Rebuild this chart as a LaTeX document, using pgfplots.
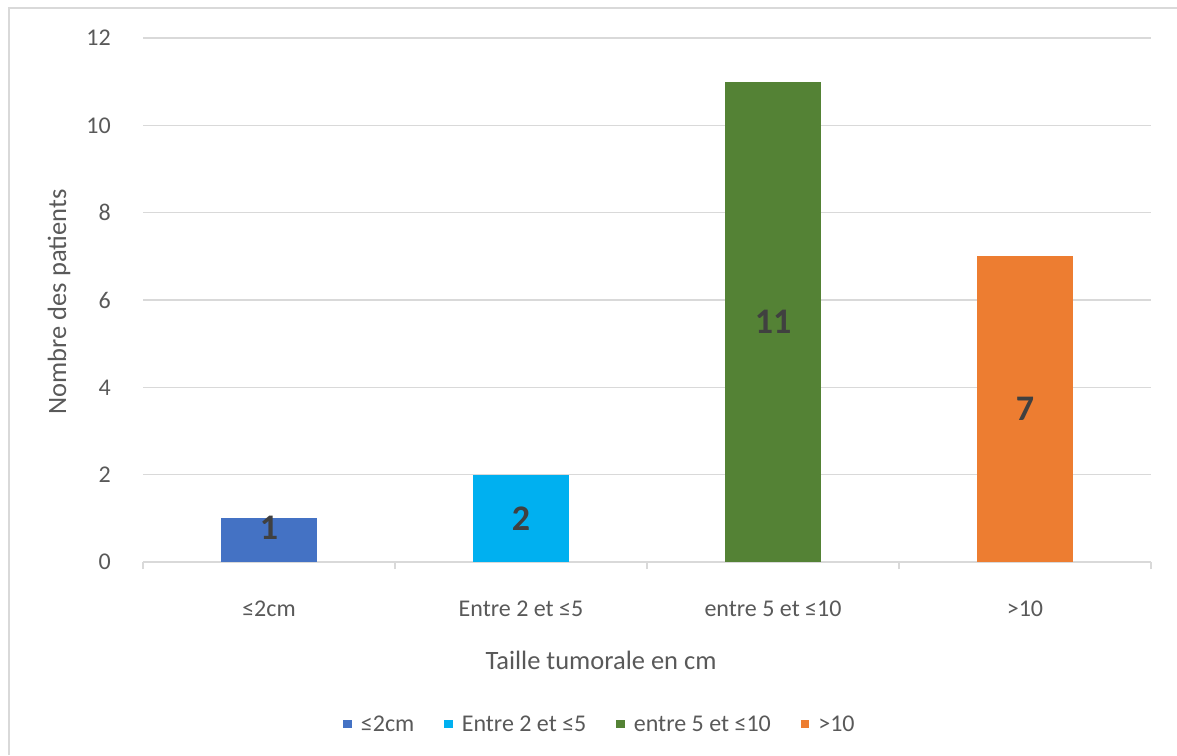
\documentclass[border=0pt]{standalone}
\usepackage{pgfplots}
\pgfplotsset{compat=1.18}
\usepackage{fontspec}
\setmainfont{Carlito}
\definecolor{gridgray}{HTML}{D9D9D9}
\definecolor{txtgray}{HTML}{595959}
\definecolor{lblgray}{HTML}{404040}
\definecolor{cblue}{HTML}{4472C4}
\definecolor{ccyan}{HTML}{00B0F0}
\definecolor{cgreen}{HTML}{548235}
\definecolor{corange}{HTML}{ED7D31}
\begin{document}
\begin{tikzpicture}[x=1pt,y=1pt]
\path[use as bounding box] (0,0) rectangle (1177,755);
\draw[gridgray, line width=2pt] (9,0) -- (9,747) -- (1178,747);
\begin{axis}[
  at={(143pt,193pt)}, anchor=south west,
  scale only axis, width=1008pt, height=524pt,
  /pgf/number format/assume math mode=true,
  xmin=-0.5, xmax=3.5, ymin=0, ymax=12,
  ytick={0,2,...,12},
  xtick={-0.5,0.5,1.5,2.5,3.5},
  x tick label as interval,
  xticklabels={≤2cm, Entre 2 et ≤5, entre 5 et ≤10, >10},
  axis x line*=bottom, axis y line*=left,
  x axis line style={draw=gridgray, line width=1.5pt, -},
  y axis line style={draw=none},
  ymajorgrids, grid style={gridgray, line width=1.5pt},
  major tick length=7pt, tick align=outside,
  tick style={gridgray, line width=1.5pt},
  ytick style={draw=none},
  tick label style={font=\fontsize{24}{28}\selectfont, text=txtgray},
  yticklabel style={anchor=east, inner sep=0pt, xshift=-25pt},
  xticklabel style={anchor=base, inner sep=0pt, yshift=-47pt},
  xlabel={Taille tumorale en cm},
  xlabel style={at={(axis description cs:0.4544,-0.187)}, anchor=center, font=\fontsize{26.5}{30}\selectfont, text=txtgray},
  ylabel={Nombre des patients},
  ylabel style={at={(axis description cs:-0.0833,0.496)}, anchor=center, font=\fontsize{26.5}{30}\selectfont, text=txtgray},
  legend columns=4,
  legend image code/.code={\fill[#1] (0pt,-4.25pt) rectangle (8.5pt,4.25pt);},
  legend style={at={(axis description cs:0.4524,-0.3092)}, anchor=center, draw=none, fill=none,
    font=\fontsize{24}{28}\selectfont, text=txtgray, inner sep=0pt,
    nodes={inner sep=0pt},
    /tikz/every odd column/.append style={column sep=9pt},
    /tikz/every even column/.append style={column sep=30pt}},
  nodes near coords,
  nodes near coords style={font=\bfseries\fontsize{36}{36}\selectfont, text=lblgray, anchor=center},
  visualization depends on=rawy \as \rawy,
  every node near coord/.append style={shift={(axis direction cs:0,-\rawy/2)}},
]
\addplot[ybar, bar width=96pt, bar shift=0pt, fill=cblue, draw=none,
  every node near coord/.append style={yshift=12pt}] coordinates {(0,1)};
\addplot[ybar, bar width=96pt, bar shift=0pt, fill=ccyan, draw=none] coordinates {(1,2)};
\addplot[ybar, bar width=96pt, bar shift=0pt, fill=cgreen, draw=none] coordinates {(2,11)};
\addplot[ybar, bar width=96pt, bar shift=0pt, fill=corange, draw=none] coordinates {(3,7)};
\legend{≤2cm, Entre 2 et ≤5, entre 5 et ≤10, >10}
\end{axis}
\end{tikzpicture}
\end{document}
